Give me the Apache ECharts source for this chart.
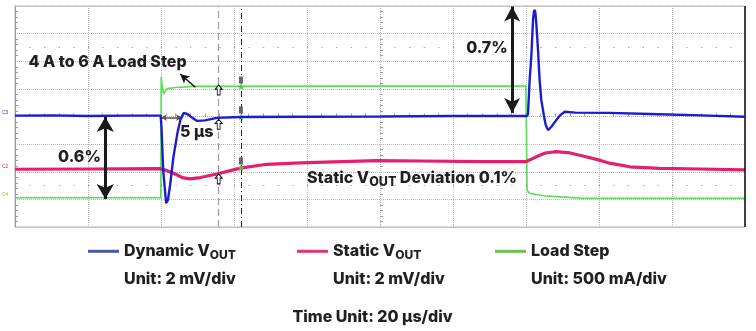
<!DOCTYPE html>
<html>
<head>
<meta charset="utf-8">
<script src="https://cdn.jsdelivr.net/npm/echarts@6/dist/echarts.min.js"></script>
<style>
  html, body { margin: 0; padding: 0; background: #fff; }
  #chart { width: 756px; height: 331px; }
</style>
</head>
<body>
<div id="chart"></div>
<script>
// ---- Data (time in µs, value in screen divisions) ----
const seriesNames = ['Dynamic VOUT', 'Static VOUT', 'Load Step'];
const unitLabels = ['Unit: 2 mV/div', 'Unit: 2 mV/div', 'Unit: 500 mA/div'];
const timeUnitLabel = 'Time Unit: 20 µs/div';

const dynT = [0, 10, 20, 30, 39.9, 40.1, 40.6, 41.4, 41.9, 42.5, 43.4, 44.5, 45.3, 46.2, 47.2, 48.6, 49.9, 52.1, 55.3, 61.7, 80, 100, 120, 140.3,
  140.55, 141.0, 141.45, 141.92, 142.15, 142.36, 142.55, 142.82, 143.29, 143.73, 144.19, 144.93, 145.4, 146.03, 146.9, 148.3, 149.4, 150.6, 153.5, 162.8, 174.0, 187.8, 200];
const dynV = [4.03, 4.04, 4.02, 4.03, 4.03, 3.69, 2.06, 0.86, 0.98, 1.52, 2.53, 3.40, 3.87, 4.13, 4.09, 3.95, 3.84, 3.86, 3.95, 3.98, 3.99, 4.00, 4.02, 4.02,
  4.10, 5.32, 6.16, 7.49, 7.78, 7.86, 7.78, 7.38, 6.41, 5.32, 4.60, 4.02, 3.69, 3.51, 3.62, 3.87, 4.05, 4.17, 4.14, 4.13, 4.09, 4.04, 3.99];

const statT = [0, 20.6, 39.8, 41.2, 43.9, 45.8, 48.0, 50.8, 55.3, 61.7, 69.0, 78.2, 87.2, 99.2, 111.0, 127.5, 140.1, 142.8, 145.3, 148.3, 152.1, 155.6, 160.4, 162.9, 168.4, 176.6, 187.8, 200];
const statV = [2.09, 2.10, 2.11, 2.06, 1.92, 1.79, 1.74, 1.79, 1.92, 2.13, 2.27, 2.32, 2.36, 2.40, 2.39, 2.37, 2.37, 2.54, 2.68, 2.73, 2.68, 2.57, 2.41, 2.31, 2.18, 2.12, 2.10, 2.07];

const loadT = [0, 39.95, 40.05, 40.3, 40.7, 41.2, 41.7, 43.9, 48.8, 100, 139.95, 140.3, 140.9, 144.7, 149.4, 155.6, 200];
const loadV = [1.06, 1.06, 5.43, 5.14, 4.81, 4.92, 5.01, 5.05, 5.09, 5.10, 5.10, 1.34, 1.22, 1.13, 1.09, 1.04, 1.04];

// ---- Styles ----
const traceColors = ['#1c1cd2', '#e2206e', '#55e055'];
const legendColors = ['#4a5aa6', '#e8307a', '#6cc24a'];
const ink = '#231f20';
const FONT = 'Inter, "Noto Sans", sans-serif';

const pair = (t, v) => t.map((x, i) => [x, v[i]]);

const chart = echarts.init(document.getElementById('chart'), null, { renderer: 'canvas' });

const richBase = {
  a: { fontSize: 16, fontWeight: 800, fontFamily: FONT, color: ink, lineHeight: 20 },
  s: { fontSize: 12, fontWeight: 800, fontFamily: FONT, color: ink, lineHeight: 10, verticalAlign: 'bottom' }
};
const richName = n => n.replace(/^(.*?)(VOUT)?$/, (m, a, v) => v ? '{a|' + a + 'V}{s|OUT}' : '{a|' + a + '}');

const legendLefts = [88, 297, 495];
const legends = seriesNames.map((n, i) => ({
  left: legendLefts[i], top: 243.3, padding: 0,
  icon: 'rect', itemWidth: 31, itemHeight: 3,
  selectedMode: false,
  data: [{ name: n, itemStyle: { color: legendColors[i] } }],
  formatter: richName,
  textStyle: { rich: richBase }
}));

const annoText = { fontSize: 16, fontWeight: 800, fontFamily: FONT, color: ink };

const upArrow = 'path://M5,0 L10,5 L7,5 L7,12 L3,12 L3,5 L0,5 Z';
const star = 'path://M5,0 L6.2,3.8 L10,3.8 L7,6.2 L8.1,10 L5,7.7 L1.9,10 L3,6.2 L0,3.8 L3.8,3.8 Z';

function textPoint(coord, text, align) {
  return {
    coord, symbol: 'rect', symbolSize: 1, itemStyle: { color: 'rgba(0,0,0,0)' },
    label: Object.assign({ show: true, position: 'inside', formatter: text, align: align || 'center', verticalAlign: 'middle',
      rich: { s: { fontSize: 12.5, fontWeight: 800, fontFamily: FONT, color: ink, lineHeight: 10, verticalAlign: 'bottom' },
              m: Object.assign({ lineHeight: 20 }, annoText) } }, annoText)
  };
}

const option = {
  animation: false,
  backgroundColor: '#ffffff',
  grid: { left: 15, top: 6, width: 730, height: 221, show: true, borderColor: '#b4b4b4', borderWidth: 1 },
  xAxis: [
    { type: 'value', min: 0, max: 200, interval: 20,
      axisLine: { show: false }, axisTick: { show: false }, axisLabel: { show: false },
      splitLine: { show: true, lineStyle: { color: '#b8b8b8', type: [1, 1], width: 1 } } },
    { type: 'value', min: 0, max: 200, interval: 20, position: 'bottom', offset: -110.5,
      axisLine: { show: false }, axisTick: { show: false, inside: true }, axisLabel: { show: false },
      minorTick: { show: true, splitNumber: 5, length: 3, lineStyle: { color: '#a0a0a0' } },
      splitLine: { show: false } }
  ],
  yAxis: [
    { type: 'value', min: 0, max: 8, interval: 1,
      axisLine: { show: true, lineStyle: { color: '#9c9c9c' } }, axisTick: { show: false, inside: true }, axisLabel: { show: false },
      minorTick: { show: true, splitNumber: 5, length: 3, lineStyle: { color: '#9c9c9c' } },
      splitLine: { show: true, lineStyle: { color: '#b8b8b8', type: [1, 1], width: 1 } } },
    { type: 'value', min: 0, max: 8, interval: 1, position: 'left', offset: -365,
      axisLine: { show: false }, axisTick: { show: false, inside: true }, axisLabel: { show: false },
      minorTick: { show: true, splitNumber: 5, length: 3, lineStyle: { color: '#a0a0a0' } },
      splitLine: { show: false } }
  ],
  legend: legends,
  series: [
    { name: seriesNames[2], type: 'line', data: pair(loadT, loadV), showSymbol: false, symbol: 'none',
      color: legendColors[2], lineStyle: { color: traceColors[2], width: 1.6 }, z: 3 },
    { name: seriesNames[1], type: 'line', data: pair(statT, statV), showSymbol: false, symbol: 'none',
      color: legendColors[1], lineStyle: { color: traceColors[1], width: 3.2 }, z: 4 },
    { name: seriesNames[0], type: 'line', data: pair(dynT, dynV), showSymbol: false, symbol: 'none',
      color: legendColors[0], lineStyle: { color: traceColors[0], width: 2.4 }, z: 5 },
    { name: 'annotations', type: 'line', data: [], z: 6, silent: true,
      markLine: {
        silent: true, symbol: ['none', 'none'], label: { show: false }, animation: false,
        data: [
          { xAxis: 200, lineStyle: { color: '#111', width: 1.5, type: 'solid' } },
          { yAxis: 6.5, lineStyle: { color: '#8a8a8a', width: 1, type: [1, 13.6] } },
          { yAxis: 1.5, lineStyle: { color: '#8a8a8a', width: 1, type: [1, 13.6] } },
          { xAxis: 55.8, lineStyle: { color: '#9a9a9a', width: 1.2, type: [7, 4] } },
          { xAxis: 61.9, lineStyle: { color: '#222', width: 1, type: [6, 3, 1, 3] } },
          [ { coord: [24.74, 3.98], symbol: 'arrow', symbolSize: [13, 15] },
            { coord: [24.74, 1.01], symbol: 'arrow', symbolSize: [13, 15], lineStyle: { color: '#1a1a1a', width: 3, type: 'solid' } } ],
          [ { coord: [136.2, 7.98], symbol: 'arrow', symbolSize: [12, 15] },
            { coord: [136.2, 4.13], symbol: 'arrow', symbolSize: [12, 15], lineStyle: { color: '#1a1a1a', width: 3, type: 'solid' } } ],
          [ { coord: [40.0, 3.96], symbol: 'arrow', symbolSize: [5, 6] },
            { coord: [45.75, 3.96], symbol: 'arrow', symbolSize: [5, 6], lineStyle: { color: '#555', width: 1.5, type: 'solid' } } ],
          [ { coord: [49.4, 5.06], symbol: 'none' },
            { coord: [45.3, 5.53], symbol: 'arrow', symbolSize: [7, 9], lineStyle: { color: '#111', width: 1.5, type: 'solid' } } ]
        ]
      },
      markPoint: {
        silent: true, animation: false,
        data: [
          textPoint([25.37, 5.95], '4 A to 6 A Load Step'),
          textPoint([49.8, 3.44], '5 µs'),
          textPoint([17.67, 2.54], '0.6%'),
          textPoint([129.3, 6.47], '0.7%'),
          textPoint([80.0, 1.76], '{m|Static V}{s|OUT}{m| Deviation 0.1%}', 'left'),
          { coord: [55.8, 4.96], symbol: upArrow, symbolSize: [7, 10], itemStyle: { color: '#fff', borderColor: '#111', borderWidth: 1 }, label: { show: false } },
          { coord: [55.8, 3.72], symbol: upArrow, symbolSize: [7, 10], itemStyle: { color: '#fff', borderColor: '#111', borderWidth: 1 }, label: { show: false } },
          { coord: [55.8, 1.74], symbol: upArrow, symbolSize: [7, 10], itemStyle: { color: '#fff', borderColor: '#111', borderWidth: 1 }, label: { show: false } },
          { coord: [61.9, 5.32], symbol: 'rect', symbolSize: [4, 7], itemStyle: { color: '#666' }, label: { show: false } },
          { coord: [61.9, 4.24], symbol: 'rect', symbolSize: [4, 7], itemStyle: { color: '#666' }, label: { show: false } },
          { coord: [61.9, 2.39], symbol: 'rect', symbolSize: [4, 7], itemStyle: { color: '#666' }, label: { show: false } },
          { coord: [61.9, 5.08], symbol: star, symbolSize: 7, itemStyle: { color: '#3fcf3f' }, label: { show: false } },
          { coord: [61.9, 3.99], symbol: star, symbolSize: 7, itemStyle: { color: '#3fcf3f' }, label: { show: false } },
          { coord: [61.9, 2.14], symbol: star, symbolSize: 7, itemStyle: { color: '#3fcf3f' }, label: { show: false } },
          { coord: [40, -0.13], symbol: 'triangle', symbolSize: [5, 5], itemStyle: { color: '#33dd33' }, label: { show: false } },
          { coord: [200.9, 1.64], symbol: 'triangle', symbolRotate: 90, symbolSize: [5, 5], itemStyle: { color: '#33dd33' }, label: { show: false } }
        ]
      }
    }
  ],
  graphic: [
    { type: 'text', silent: true, style: { x: 2, y: 113, text: 'C3', fill: '#3344cc', font: '5px sans-serif', verticalAlign: 'middle' } },
    { type: 'text', silent: true, style: { x: 2, y: 167, text: 'C2', fill: '#e0206e', font: '5px sans-serif', verticalAlign: 'middle' } },
    { type: 'text', silent: true, style: { x: 2, y: 194.5, text: 'C4', fill: '#a8c83a', font: '5px sans-serif', verticalAlign: 'middle' } },
    ...unitLabels.map((u, i) => ({ type: 'text', silent: true,
      style: { x: legendLefts[i] + 36, y: 278.7, text: u, fill: ink, font: '800 16px ' + FONT, verticalAlign: 'middle', align: 'left' } })),
    { type: 'text', silent: true, style: { x: 372.5, y: 316.7, text: timeUnitLabel, fill: ink, font: '800 16px ' + FONT, verticalAlign: 'middle', align: 'center' } }
  ]
};

chart.setOption(option);
</script>
</body>
</html>
